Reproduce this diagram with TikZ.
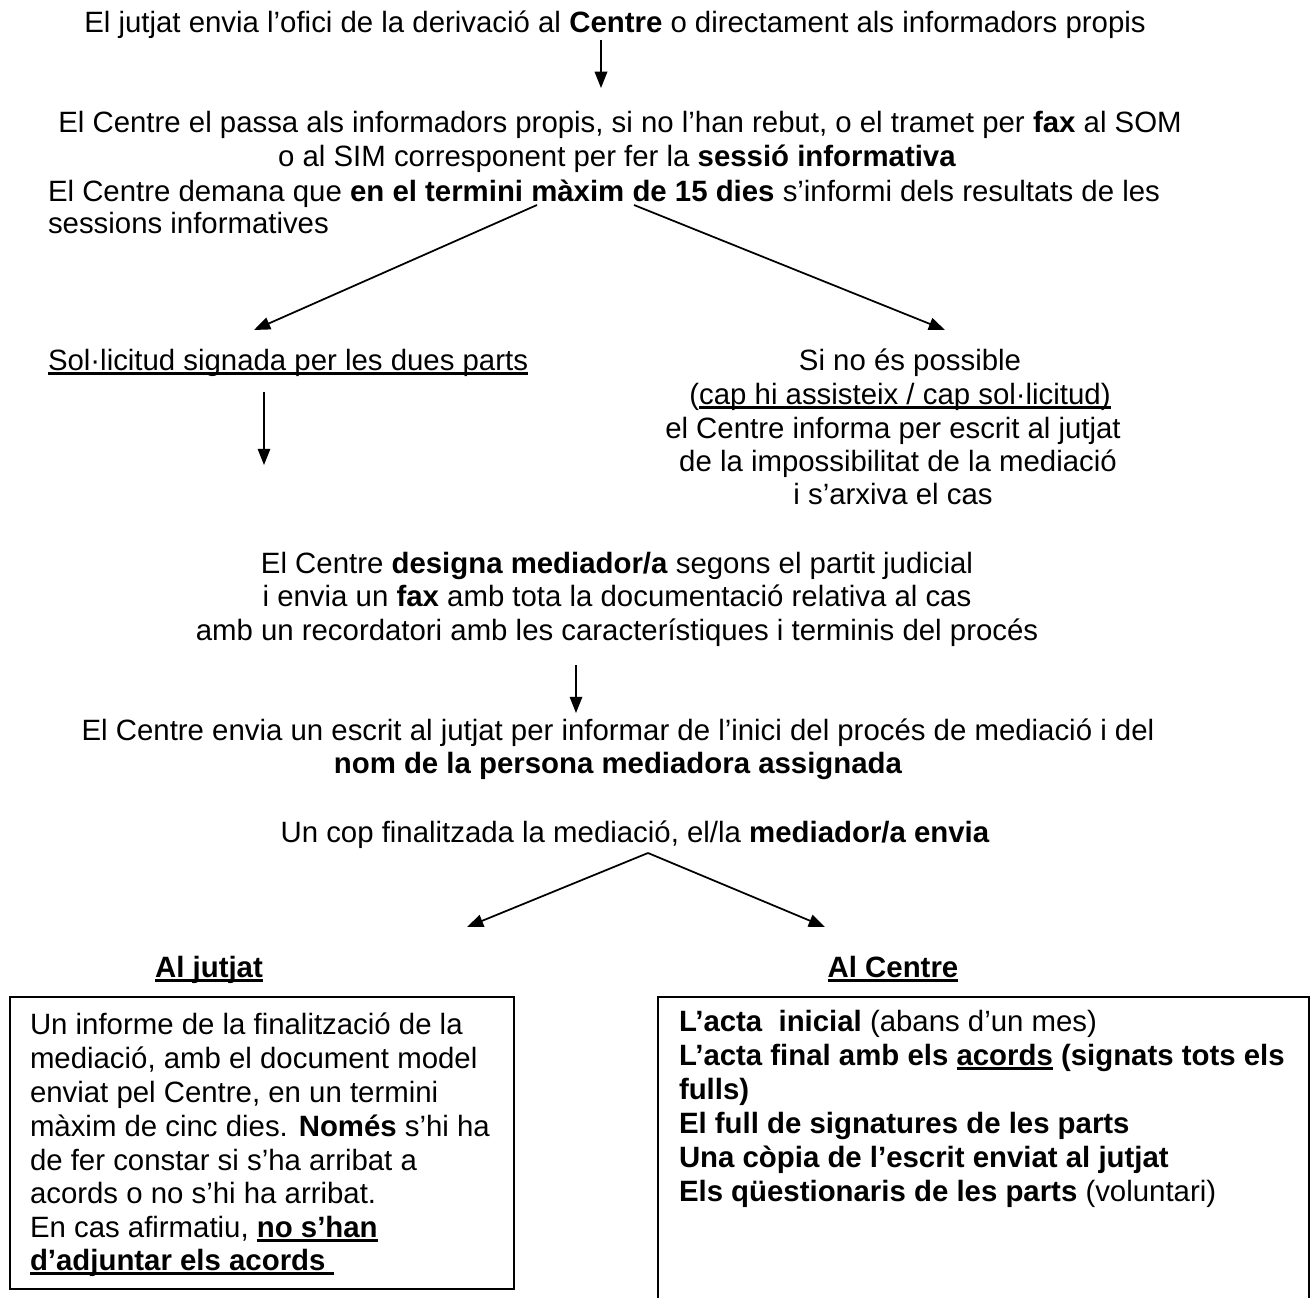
\documentclass[tikz,border=0pt]{standalone}
\usepackage{fontspec}
\setmainfont{Liberation Sans}
\usetikzlibrary{arrows.meta}
\newsavebox\ulbox
\newcommand{\ulx}[1]{\sbox\ulbox{#1}\rlap{\raisebox{-1.8pt}{\rule{\wd\ulbox}{0.9pt}}}\usebox\ulbox}
\tikzset{
  txt/.style={inner sep=0pt, outer sep=0pt, font=\fontsize{11.75}{13.6}\selectfont},
  ctr/.style={txt, anchor=base},
  lft/.style={txt, anchor=base west},
  arr/.style={draw, line width=0.7pt, -{Triangle[length=6.5pt,width=5pt]}},
  boxline/.style={draw, line width=0.8pt}
}
\begin{document}
\begin{tikzpicture}[x=0.4pt, y=-0.4pt]
\useasboundingbox (0,0) rectangle (1312,1298);
% top
\node[ctr] (t1) at (615,33) {El jutjat envia l’ofici de la derivació al \textbf{Centre} o directament als informadors propis};
\coordinate (a1s) at (601,40);
\coordinate (a1e) at (601,88);
\draw[arr] (a1s) -- (a1e);
\node[ctr] (t2) at (620,133) {El Centre el passa als informadors propis, si no l’han rebut, o el tramet per \textbf{fax} al SOM};
\node[ctr] (t3) at (617,167) {o al SIM corresponent per fer la \textbf{sessió informativa}};
\node[lft] (t4) at (48,202) {El Centre demana que \textbf{en el termini màxim de 15 dies} s’informi dels resultats de les};
\node[lft] (t5) at (48,234) {sessions informatives};
\coordinate (a2s) at (537,205);
\coordinate (a2e) at (254,330);
\coordinate (a3s) at (634,205);
\coordinate (a3e) at (945,330);
\draw[arr] (a2s) -- (a2e);
\draw[arr] (a3s) -- (a3e);
% left branch
\node[lft] (t6) at (48,370) {\ulx{Sol·licitud signada per les dues parts}};
\coordinate (a4s) at (264,392);
\coordinate (a4e) at (264,465);
\draw[arr] (a4s) -- (a4e);
% right branch
\node[ctr] (r1) at (910,370) {Si no és possible};
\node[ctr] (r2) at (900,404) {(\ulx{cap hi assisteix / cap sol·licitud)}};
\node[ctr] (r3) at (893,438) {el Centre informa per escrit al jutjat};
\node[ctr] (r4) at (898,471) {de la impossibilitat de la mediació};
\node[ctr] (r5) at (893,504) {i s’arxiva el cas};
% centre
\node[ctr] (c1) at (617,573) {El Centre \textbf{designa mediador/a} segons el partit judicial};
\node[ctr] (c2) at (617,606) {i envia un \textbf{fax} amb tota la documentació relativa al cas};
\node[ctr] (c3) at (617,640) {amb un recordatori amb les característiques i terminis del procés};
\coordinate (a5s) at (576,665);
\coordinate (a5e) at (576,713);
\draw[arr] (a5s) -- (a5e);
\node[ctr] (c4) at (618,740) {El Centre envia un escrit al jutjat per informar de l’inici del procés de mediació i del};
\node[ctr] (c5) at (618,773) {\textbf{nom de la persona mediadora assignada}};
\node[ctr] (c6) at (635,842) {Un cop finalitzada la mediació, el/la \textbf{mediador/a envia}};
\coordinate (apx) at (648,853);
\coordinate (a6e) at (467,927);
\coordinate (a7e) at (825,927);
\draw[arr] (apx) -- (a6e);
\draw[arr] (apx) -- (a7e);
% headings
\node[ctr] (h1) at (209,977) {\textbf{\ulx{Al jutjat}}};
\node[ctr] (h2) at (893,977) {\textbf{\ulx{Al Centre}}};
% boxes
\draw[boxline] (10,997) rectangle (514,1289);
\draw[boxline] (658,1330) -- (658,997) -- (1309,997) -- (1309,1330);
% left box text
\node[lft] (l1) at (30,1034) {Un informe de la finalització de la};
\node[lft] (l2) at (30,1068) {mediació, amb el document model};
\node[lft] (l3) at (30,1102) {enviat pel Centre, en un termini};
\node[lft] (l4) at (30,1136) {màxim de cinc dies. \textbf{Només} s’hi ha};
\node[lft] (l5) at (30,1170) {de fer constar si s’ha arribat a};
\node[lft] (l6) at (30,1203) {acords o no s’hi ha arribat.};
\node[lft] (l7) at (30,1237) {En cas afirmatiu, \textbf{\ulx{no s’han}}};
\node[lft] (l8) at (30,1270) {\textbf{\ulx{d’adjuntar els acords\hspace{0.3em}}}};
% right box text
\node[lft] (q1) at (679,1031) {\textbf{L’acta\ \ inicial} (abans d’un mes)};
\node[lft] (q2) at (679,1065) {\textbf{L’acta final amb els \ulx{acords} (signats tots els}};
\node[lft] (q3) at (679,1099) {\textbf{fulls)}};
\node[lft] (q4) at (679,1133) {\textbf{El full de signatures de les parts}};
\node[lft] (q5) at (679,1167) {\textbf{Una còpia de l’escrit enviat al jutjat}};
\node[lft] (q6) at (679,1201) {\textbf{Els qüestionaris de les parts} (voluntari)};
\end{tikzpicture}
\end{document}
